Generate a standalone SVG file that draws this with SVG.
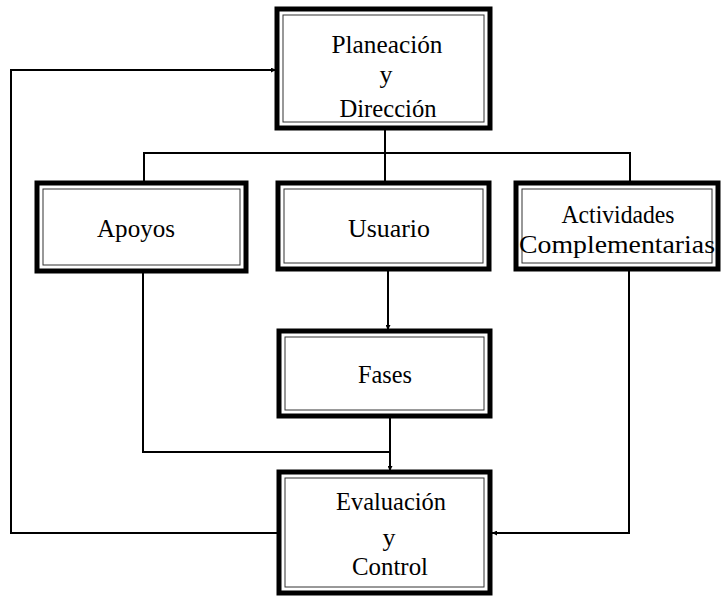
<svg xmlns="http://www.w3.org/2000/svg" width="721" height="596" viewBox="0 0 721 596">
<style>
.outer{fill:#fff;stroke:#000;stroke-width:5}
.inner{fill:none;stroke:#333;stroke-width:1}
.t{font-family:"Liberation Serif","Times New Roman",serif;font-size:26px;fill:#000;text-anchor:middle}
.c{fill:none;stroke:#000;stroke-width:2}
</style>
<defs>
<marker id="ah" viewBox="0 0 10 10" refX="10" refY="5" markerWidth="5" markerHeight="5" orient="auto" markerUnits="userSpaceOnUse">
<path d="M0,0 L10,5 L0,10 Z" fill="#000"/>
</marker>
</defs>
<rect width="721" height="596" fill="#fff"/>
<g id="connectors">
<path class="c" d="M385,128 V182"/>
<path class="c" d="M144,182 V153 H630 V182"/>
<path class="c" d="M388,270 V330" marker-end="url(#ah)"/>
<path class="c" d="M143,272 V452 H390"/>
<path class="c" d="M390,417 V471" marker-end="url(#ah)"/>
<path class="c" d="M629,270 V533 H492" marker-end="url(#ah)"/>
<path class="c" d="M278,533 H11 V70 H276" marker-end="url(#ah)"/>
</g>
<g id="planeacion">
<rect class="outer" x="277" y="9" width="213" height="119"/>
<rect class="inner" x="283" y="15" width="201" height="107"/>
<text class="t" x="387" y="53" textLength="111" lengthAdjust="spacingAndGlyphs">Planeación</text>
<text class="t" x="386" y="83">y</text>
<text class="t" x="388" y="117" textLength="97" lengthAdjust="spacingAndGlyphs">Dirección</text>
</g>
<g id="apoyos">
<rect class="outer" x="37" y="183" width="209" height="88"/>
<rect class="inner" x="43" y="189" width="197" height="76"/>
<text class="t" x="136" y="237" textLength="78" lengthAdjust="spacingAndGlyphs">Apoyos</text>
</g>
<g id="usuario">
<rect class="outer" x="278" y="183" width="211" height="86"/>
<rect class="inner" x="284" y="189" width="199" height="74"/>
<text class="t" x="389" y="237" textLength="82" lengthAdjust="spacingAndGlyphs">Usuario</text>
</g>
<g id="actividades">
<rect class="outer" x="516" y="183" width="202" height="86"/>
<rect class="inner" x="522" y="189" width="190" height="74"/>
<text class="t" x="618" y="223" textLength="113" lengthAdjust="spacingAndGlyphs">Actividades</text>
<text class="t" x="617" y="253" textLength="196" lengthAdjust="spacingAndGlyphs">Complementarias</text>
</g>
<g id="fases">
<rect class="outer" x="279" y="331" width="211" height="85"/>
<rect class="inner" x="285" y="337" width="199" height="73"/>
<text class="t" x="385" y="383" textLength="54" lengthAdjust="spacingAndGlyphs">Fases</text>
</g>
<g id="evaluacion">
<rect class="outer" x="279" y="472" width="211" height="121"/>
<rect class="inner" x="285" y="478" width="199" height="109"/>
<text class="t" x="391" y="510" textLength="110" lengthAdjust="spacingAndGlyphs">Evaluación</text>
<text class="t" x="389" y="546">y</text>
<text class="t" x="390" y="575" textLength="76" lengthAdjust="spacingAndGlyphs">Control</text>
</g>
</svg>
